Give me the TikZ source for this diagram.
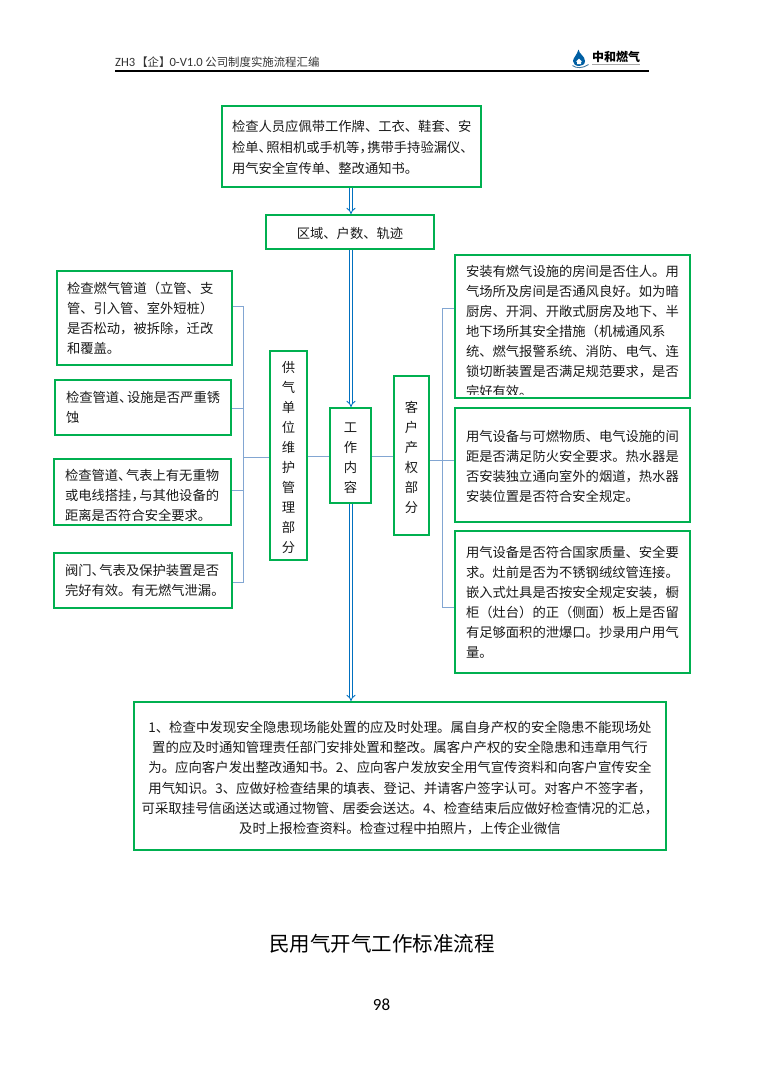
\documentclass[tikz,border=0pt]{standalone}
\usepackage{fontspec}
\setmainfont{Noto Sans CJK SC}
\newfontfamily\latinf{Carlito}
\usetikzlibrary{arrows.meta,calc}
\definecolor{boxgreen}{HTML}{00B050}
\definecolor{arrowblue}{HTML}{0070C0}
\definecolor{linkblue}{HTML}{82A6D2}
\definecolor{inkc}{HTML}{1A1A1A}
\newcommand{\ks}{\kern-5.5pt\relax}
\newcommand{\drop}[1]{\rule{0pt}{\dimexpr 15.43pt+#1pt\relax}}
\tikzset{
  x=1pt,y=-1pt,
  every node/.style={text=inkc},
  bodyfont/.style={font=\fontsize{13.3}{20}\selectfont},
  gbox/.style={draw=boxgreen,line width=2pt,rectangle,inner sep=0pt,bodyfont},
  ltext/.style={gbox,align=left},
  ctext/.style={gbox,align=center},
  conn/.style={draw=linkblue,line width=1pt},
  dbl/.style={draw=arrowblue,double=white,double distance=2.2pt,line width=0.9pt,-{Implies}},
}
\begin{document}
\begin{tikzpicture}
\useasboundingbox (0,0) rectangle (764,1080);
% header
\node[anchor=base west,inner sep=0pt,font=\fontsize{11.4}{14}\selectfont,text=black!80] (hdr) at (115,66) {{\latinf\fontsize{12.6}{14}\selectfont ZH3}\kern1pt【企】\kern-1pt{\latinf\fontsize{12.6}{14}\selectfont 0-V1.0} 公司制度实施流程汇编};
\coordinate (ruleA) at (115,71);
\coordinate (ruleB) at (649,71);
\draw[line width=1.3pt,black] (ruleA) -- (ruleB);
% logo
\fill[arrowblue!85!black] (578.5,49.5) .. controls (579,54) and (585,56) .. (585,61) .. controls (585,64.5) and (582,66) .. (579,66) .. controls (575.5,66) and (573,64) .. (573,61) .. controls (573,58) and (577,55) .. (578.5,49.5) -- cycle;
\fill[white] (579,58.5) -- (582,61.5) -- (581,61.5) -- (581,64) -- (577,64) -- (577,61.5) -- (576,61.5) -- cycle;
\draw[arrowblue!50!gray,line width=0.9pt] (572.5,65.5) .. controls (576,68.5) and (583,68.5) .. (588.5,64.5);
\node[anchor=base west,inner sep=0pt,font=\fontsize{12}{14}\selectfont\bfseries,text=black] (logo) at (592,61.5) {中和燃气};
\draw[gray!70,line width=1pt] (592,64.5) -- (640,64.5);
% boxes
\node[ltext,font=\fontsize{13.3}{20.8}\selectfont,minimum width=259,minimum height=81,text width=239] (top) at (351.5,146.5) {\drop{-2}检查人员应佩带工作牌、工衣、鞋套、安\\检单、\ks 照相机或手机等，\ks 携带手持验漏仪、\\用气安全宣传单、整改通知书。};
\node[ctext,minimum width=168,minimum height=34,text width=148] (zone) at (350,232) {\drop{-2}区域、户数、轨迹};
\node[ltext,minimum width=175,minimum height=94,text width=155] (lb1) at (144.5,318) {检查燃气管道（立管、支\\管、引入管、室外短桩）\\是否松动，被拆除，迁改\\和覆盖。};
\node[ltext,minimum width=176,minimum height=55,text width=154] (lb2) at (143,407.5) {检查管道、\ks 设施是否严重锈\\蚀};
\node[ltext,minimum width=177,minimum height=66,text width=155] (lb3) at (142.5,492) {\drop{2}检查管道、\ks 气表上有无重物\\或电线搭挂，\ks 与其他设备的\\距离是否符合安全要求。};
\node[ltext,minimum width=178,minimum height=55,text width=156] (lb4) at (143,580.5) {阀门、\ks 气表及保护装置是否\\完好有效。有无燃气泄漏。};
\node[ctext,minimum width=37,minimum height=209,text width=33] (sup) at (288.5,455.5) {\drop{0}供\\气\\单\\位\\维\\护\\管\\理\\部\\分};
\node[ctext,minimum width=41,minimum height=95,text width=37] (work) at (350.5,455.5) {\drop{0}工\\作\\内\\容};
\node[ctext,minimum width=35,minimum height=159,text width=31] (cust) at (411.5,455.5) {\drop{-1}客\\户\\产\\权\\部\\分};
\node[gbox,minimum width=235,minimum height=143] (rb1) at (572.5,326.5) {};
\begin{scope}
\clip ($(rb1.south west)+(1,-5)$) rectangle ($(rb1.north east)+(-1,1)$);
\node[bodyfont,align=left,text width=213,inner sep=0pt] (rb1t) at (572.5,331) {安装有燃气设施的房间是否住人。用\\气场所及房间是否通风良好。如为暗\\厨房、开洞、开敞式厨房及地下、半\\地下场所其安全措施（机械通风系\\统、燃气报警系统、消防、电气、连\\锁切断装置是否满足规范要求，是否\\完好有效。};
\end{scope}
\node[ltext,minimum width=235,minimum height=114,text width=213] (rb2) at (572.5,465) {\drop{-2}用气设备与可燃物质、电气设施的间\\距是否满足防火安全要求。热水器是\\否安装独立通向室外的烟道，热水器\\安装位置是否符合安全规定。};
\node[ltext,minimum width=235,minimum height=142,text width=213] (rb3) at (572.5,602) {用气设备是否符合国家质量、安全要\\求。灶前是否为不锈钢绒纹管连接。\\嵌入式灶具是否按安全规定安装，橱\\柜（灶台）的正（侧面）板上是否留\\有足够面积的泄爆口。抄录用户用气\\量。};
\node[ctext,font=\fontsize{13.4}{20.2}\selectfont,minimum width=532,minimum height=148,text width=526] (bot) at (400,776) {\drop{0}1、检查中发现安全隐患现场能处置的应及时处理。属自身产权的安全隐患不能现场处\\置的应及时通知管理责任部门安排处置和整改。属客户产权的安全隐患和违章用气行\\为。应向客户发出整改通知书。2、应向客户发放安全用气宣传资料和向客户宣传安全\\用气知识。3、应做好检查结果的填表、登记、并请客户签字认可。对客户不签字者，\\可采取挂号信函送达或通过物管、居委会送达。4、检查结束后应做好检查情况的汇总，\\及时上报检查资料。检查过程中拍照片，上传企业微信};
% connectors
\coordinate (ax) at (351,0);
\draw[dbl] (ax |- top.south) -- (ax |- zone.north);
\draw[dbl] (ax |- zone.south) -- (ax |- work.north);
\draw[dbl] (ax |- work.south) -- (ax |- bot.north);
\coordinate (jl1) at (243.5,306.5);
\coordinate (jl2) at (243.5,408.5);
\coordinate (jlm) at (243.5,457.5);
\coordinate (jl3) at (243.5,490.5);
\coordinate (jl4) at (243.5,582.5);
\coordinate (jm) at (0,456.5);
\draw[conn] (lb1.east |- jl1) -- (jl1) -- (jl4) -- (lb4.east |- jl4);
\draw[conn] (lb2.east |- jl2) -- (jl2);
\draw[conn] (lb3.east |- jl3) -- (jl3);
\draw[conn] (jlm) -- (sup.west |- jlm);
\draw[conn] (sup.east |- jm) -- (work.west |- jm);
\draw[conn] (work.east |- jm) -- (cust.west |- jm);
\coordinate (jr1) at (442.5,308.5);
\coordinate (jrm) at (442.5,460.5);
\coordinate (jr3) at (442.5,607.5);
\draw[conn] (rb1.west |- jr1) -- (jr1) -- (jr3) -- (rb3.west |- jr3);
\draw[conn] (cust.east |- jrm) -- (rb2.west |- jrm);
% footer
\node[inner sep=0pt,font=\fontsize{20.5}{24}\selectfont,text=black] (title) at (382,944) {民用气开气工作标准流程};
\node[inner sep=0pt,font=\latinf\fontsize{17}{20}\selectfont,text=black] (pg) at (381.5,1005) {98};
\end{tikzpicture}
\end{document}
